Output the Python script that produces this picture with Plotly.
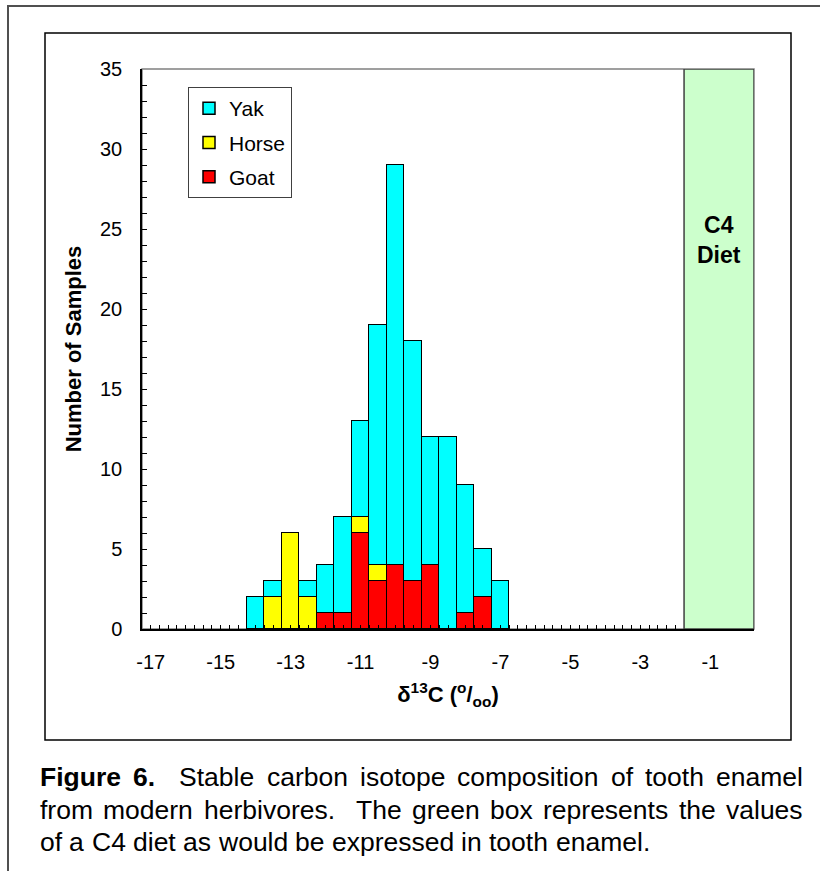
import plotly.graph_objects as go

# ---------------- data ----------------
bin_centers = [-14, -13.5, -13, -12.5, -12, -11.5, -11, -10.5, -10, -9.5, -9, -8.5, -8, -7.5, -7]
goat  = [None, None, None, None, 1, 1, 6, 3, 4, 3, 4, None, 1, 2, None]
horse = [None, 2, 6, 2, None, None, 1, 1, None, None, None, None, None, None, None]
yak   = [2, 1, None, 1, 3, 6, 6, 15, 25, 15, 8, 12, 8, 3, 3]
series_names = ["Goat", "Horse", "Yak"]
series_colors = ["#FF0000", "#FFFF00", "#00FFFF"]
legend_ranks = [3, 2, 1]

x_tick_vals = [-17, -15, -13, -11, -9, -7, -5, -3, -1]
x_tick_text = ["-17", "-15", "-13", "-11", "-9", "-7", "-5", "-3", "-1"]
y_tick_vals = [0, 5, 10, 15, 20, 25, 30, 35]

c4_range = [-1.75, 0.25]
c4_label = "<b>C4<br>Diet</b>"

caption_lines = [
    [("Figure", True), ("6.", True), ("", False), ("Stable", False), ("carbon", False), ("isotope", False),
     ("composition", False), ("of", False), ("tooth", False), ("enamel", False)],
    [("from", False), ("modern", False), ("herbivores.", False), ("", False), ("The", False), ("green", False),
     ("box", False), ("represents", False), ("the", False), ("values", False)],
    [("of", False), ("a", False), ("C4", False), ("diet", False), ("as", False), ("would", False), ("be", False),
     ("expressed", False), ("in", False), ("tooth", False), ("enamel.", False)],
]

# ---------------- layout geometry (pixels) ----------------
W, H = 820, 871
PL, PR, PT, PB = 142, 754, 69, 629
FONT = "Liberation Sans, Arial, Helvetica, sans-serif"


def px_x(px):
    return (px - PL) / (PR - PL)


def px_y(py):
    return (PB - py) / (PB - PT)


fig = go.Figure()
for name, color, vals, rank in zip(series_names, series_colors, [goat, horse, yak], legend_ranks):
    fig.add_trace(go.Bar(
        x=bin_centers, y=vals, name=name, width=0.5,
        marker=dict(color=color, line=dict(color="black", width=1.5)),
        legendgroup=name, legendrank=rank,
    ))

# Arial / Liberation Sans advance widths (1/1000 em)
REG = {' ': 278, 'a': 556, 'b': 556, 'c': 500, 'd': 556, 'e': 556, 'f': 278, 'g': 556, 'h': 556, 'i': 222,
       'l': 222, 'm': 833, 'n': 556, 'o': 556, 'p': 556, 'r': 333, 's': 500, 't': 278, 'u': 556, 'v': 500,
       'w': 722, 'x': 500, 'y': 500, '.': 278, 'C': 722, '4': 556, 'T': 611, 'S': 667, '6': 556, 'F': 611}
BLD = {'F': 611, 'i': 278, 'g': 611, 'u': 611, 'r': 389, 'e': 556, '6': 556, '.': 278, ' ': 278}

CAP_SIZE = 26.5
CAP_LEFT, CAP_RIGHT = 40, 803
cap_y = [777, 810, 842]


def wwidth(word, bold):
    tab = BLD if bold else REG
    return sum(tab.get(ch, 556) for ch in word) * CAP_SIZE / 1000.0


annotations = []
for li, line in enumerate(caption_lines):
    words = line
    total = sum(wwidth(w, b) for w, b in words)
    n_gaps = len(words) - 1
    space = REG[' '] * CAP_SIZE / 1000.0
    if li < len(caption_lines) - 1:
        gap = (CAP_RIGHT - CAP_LEFT - total) / n_gaps
    else:
        gap = space
    x = CAP_LEFT
    for w, b in words:
        if w:
            annotations.append(dict(
                x=px_x(x), y=px_y(cap_y[li]), xref="paper", yref="paper",
                text=("<b>%s</b>" % w) if b else w, showarrow=False,
                xanchor="left", yanchor="middle", borderpad=0, borderwidth=0,
                font=dict(family=FONT, size=CAP_SIZE, color="black"),
            ))
        x += wwidth(w, b) + gap

annotations.append(dict(
    x=sum(c4_range) / 2, y=24.3, xref="x", yref="y", text=c4_label, showarrow=False,
    font=dict(family=FONT, size=23, color="black"), xanchor="center", yanchor="middle",
))

shapes = [
    # plot area border (gray)
    dict(type="rect", xref="paper", yref="paper", x0=0, x1=1, y0=0, y1=1,
         line=dict(color="#808080", width=1.5), layer="below"),
    # C4 diet box
    dict(type="rect", xref="x", yref="y", x0=c4_range[0], x1=c4_range[1], y0=0, y1=35,
         fillcolor="#CCFFCC", line=dict(color="#404040", width=1.5), layer="above"),
    # inner chart frame
    dict(type="rect", xref="paper", yref="paper", x0=px_x(45), x1=px_x(791), y0=px_y(740), y1=px_y(33),
         line=dict(color="black", width=1.5), layer="above"),
    # outer figure frame
    dict(type="rect", xref="paper", yref="paper", x0=px_x(8), x1=px_x(840), y0=px_y(900), y1=px_y(6),
         line=dict(color="#505050", width=2), layer="above"),
]

fig.update_layout(
    width=W, height=H,
    margin=dict(l=PL, r=W - PR, t=PT, b=H - PB, pad=0),
    paper_bgcolor="white", plot_bgcolor="white",
    barmode="stack", bargap=0,
    font=dict(family=FONT, color="black", size=20),
    showlegend=True,
    legend=dict(
        x=px_x(188), y=px_y(87), xanchor="left", yanchor="top",
        traceorder="grouped", tracegroupgap=4,
        bordercolor="#404040", borderwidth=1, bgcolor="white",
        font=dict(family=FONT, size=21, color="black"), itemwidth=30,
    ),
    xaxis=dict(
        range=[-17.25, 0.25], tickmode="array", tickvals=x_tick_vals, ticktext=x_tick_text,
        ticks="inside", ticklen=4, tickwidth=1, tickcolor="black",
        minor=dict(tickmode="linear", tick0=-17, dtick=0.25, ticks="inside", ticklen=4,
                   tickwidth=1, tickcolor="black", showgrid=False),
        showline=True, linecolor="black", linewidth=2, showgrid=False, zeroline=False,
        tickfont=dict(family=FONT, size=20, color="black"), ticklabelstandoff=14,
        title=dict(text="<b>δ<sup>13</sup>C (<sup>o</sup>/<sub>oo</sub>)</b>",
                   font=dict(family=FONT, size=22, color="black"), standoff=15),
    ),
    yaxis=dict(
        range=[0, 35], tickmode="array", tickvals=y_tick_vals,
        ticks="inside", ticklen=5, tickwidth=1, tickcolor="black",
        minor=dict(tickmode="linear", tick0=0, dtick=1, ticks="inside", ticklen=5,
                   tickwidth=1, tickcolor="black", showgrid=False),
        showline=True, linecolor="black", linewidth=1.5, showgrid=False, zeroline=False,
        tickfont=dict(family=FONT, size=20, color="black"), ticklabelstandoff=14,
        title=dict(text="<b>Number of Samples</b>", font=dict(family=FONT, size=22, color="black"),
                   standoff=12),
    ),
    shapes=shapes,
    annotations=annotations,
)

fig.write_html("out.html")
